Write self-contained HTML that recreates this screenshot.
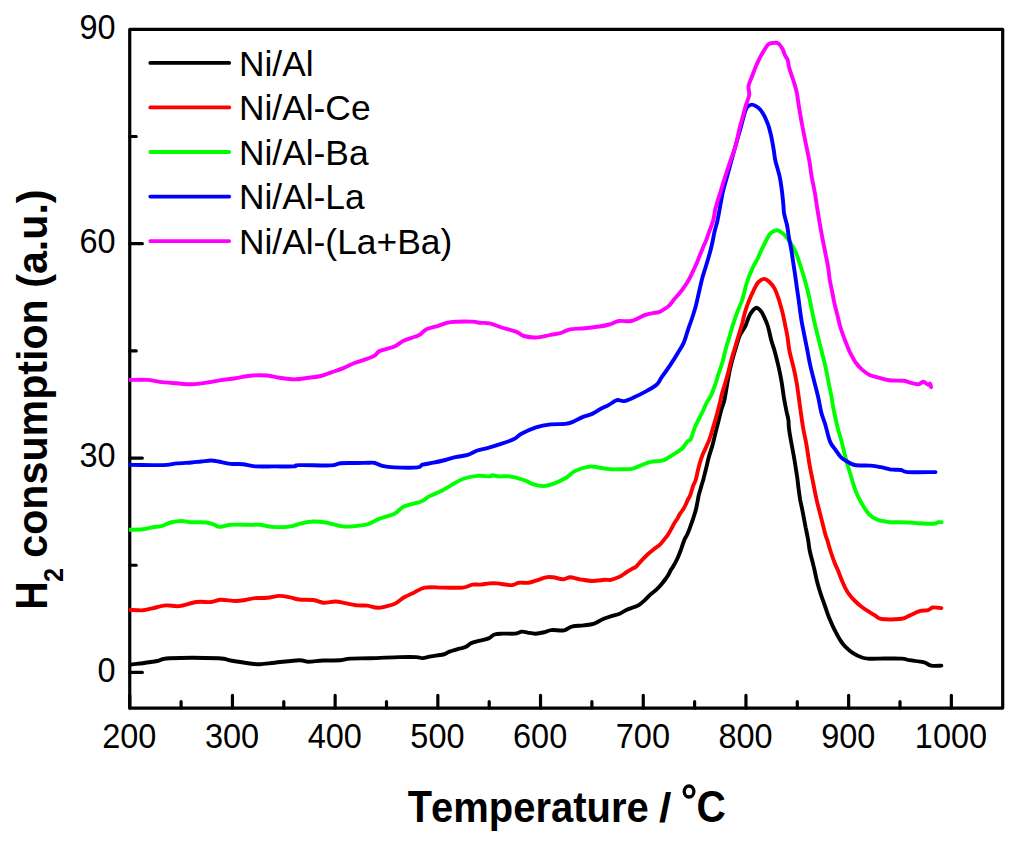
<!DOCTYPE html>
<html><head><meta charset="utf-8"><title>H2-TPR profiles</title>
<style>html,body{margin:0;padding:0;background:#fff;width:1024px;height:845px;overflow:hidden} svg{display:block}</style>
</head><body>
<svg width="1024" height="845" viewBox="0 0 1024 845">
<style>.tk{font-family:"Liberation Sans",sans-serif;font-size:33px;fill:#000} .ttl{font-family:"Liberation Sans",sans-serif;font-size:41.5px;font-weight:bold;fill:#000} .sub{font-family:"Liberation Sans",sans-serif;font-size:26px;font-weight:bold;fill:#000}</style>
<rect width="1024" height="845" fill="#fff"/>
<rect x="129.74" y="29.3" width="872.96" height="678.80" fill="none" stroke="#000" stroke-width="3.2" stroke-linejoin="round"/>
<path d="M129.74,708.1V695.25M232.44,708.1V695.25M335.14,708.1V695.25M437.84,708.1V695.25M540.54,708.1V695.25M643.25,708.1V695.25M745.95,708.1V695.25M848.65,708.1V695.25M951.35,708.1V695.25M181.09,708.1V701.60M283.79,708.1V701.60M386.49,708.1V701.60M489.19,708.1V701.60M591.89,708.1V701.60M694.60,708.1V701.60M797.30,708.1V701.60M900.00,708.1V701.60M129.74,672.40H142.34M129.74,458.05H142.34M129.74,243.70H142.34M129.74,565.23H136.24M129.74,350.88H136.24M129.74,136.52H136.24" stroke="#000" stroke-width="3.2" stroke-linecap="round" fill="none"/>
<text transform="translate(129.34,748.35) scale(0.985,1.055)" text-anchor="middle" class="tk">200</text>
<text transform="translate(232.04,748.35) scale(0.985,1.055)" text-anchor="middle" class="tk">300</text>
<text transform="translate(334.74,748.35) scale(0.985,1.055)" text-anchor="middle" class="tk">400</text>
<text transform="translate(437.44,748.35) scale(0.985,1.055)" text-anchor="middle" class="tk">500</text>
<text transform="translate(540.14,748.35) scale(0.985,1.055)" text-anchor="middle" class="tk">600</text>
<text transform="translate(642.85,748.35) scale(0.985,1.055)" text-anchor="middle" class="tk">700</text>
<text transform="translate(745.55,748.35) scale(0.985,1.055)" text-anchor="middle" class="tk">800</text>
<text transform="translate(848.25,748.35) scale(0.985,1.055)" text-anchor="middle" class="tk">900</text>
<text transform="translate(950.95,748.35) scale(0.985,1.055)" text-anchor="middle" class="tk">1000</text>
<text transform="translate(115.6,681.65) scale(0.985,1.055)" text-anchor="end" class="tk">0</text>
<text transform="translate(115.6,467.30) scale(0.985,1.055)" text-anchor="end" class="tk">30</text>
<text transform="translate(115.6,252.95) scale(0.985,1.055)" text-anchor="end" class="tk">60</text>
<text transform="translate(115.6,38.60) scale(0.985,1.055)" text-anchor="end" class="tk">90</text>
<clipPath id="pc"><rect x="128.95" y="0" width="900" height="845"/></clipPath><g clip-path="url(#pc)">
<path d="M127.0,665.5C127.4,665.5 128.9,665.6 129.5,665.5C130.1,665.4 128.2,665.1 130.4,664.7C132.6,664.3 138.1,663.8 142.6,663.2C147.1,662.6 152.8,661.8 157.3,661.0C161.8,660.2 159.3,658.8 169.5,658.3C179.7,657.8 208.1,657.9 218.3,658.3C228.5,658.7 225.2,659.6 230.5,660.5C235.8,661.4 245.1,662.9 250.0,663.5C254.9,664.1 255.7,664.3 259.8,664.2C263.9,664.1 268.0,663.4 274.5,662.7C281.0,662.1 293.2,660.5 298.9,660.3C304.6,660.1 304.6,661.7 308.7,661.7C312.8,661.7 318.0,660.7 323.3,660.5C328.6,660.3 335.9,660.6 340.4,660.3C344.9,660.0 345.3,659.0 350.2,658.6C355.1,658.2 361.8,658.5 370.0,658.2C378.2,658.0 391.6,657.3 399.3,657.1C407.0,656.9 412.5,656.9 416.4,657.1C420.3,657.3 420.1,658.2 422.5,658.1C424.9,658.0 428.1,656.9 431.0,656.4C433.9,655.9 437.5,655.4 439.8,655.0C442.1,654.6 443.0,654.7 444.6,654.1C446.2,653.5 447.1,652.5 449.5,651.6C451.9,650.7 456.5,649.5 459.3,648.7C462.1,647.9 464.2,647.6 466.1,646.7C468.1,645.8 468.9,644.3 471.0,643.3C473.1,642.3 475.9,641.7 478.8,640.9C481.7,640.1 486.0,639.5 488.6,638.4C491.2,637.3 492.1,635.3 494.5,634.5C496.9,633.7 499.8,633.8 503.2,633.6C506.6,633.5 511.9,633.9 515.0,633.6C518.1,633.3 519.7,631.8 521.8,631.6C523.9,631.4 525.4,632.2 527.7,632.6C530.0,633.0 532.9,633.8 535.7,633.7C538.5,633.6 541.9,632.8 544.5,632.2C547.1,631.6 548.1,630.4 551.4,630.1C554.7,629.8 560.7,630.9 564.1,630.3C567.5,629.7 568.6,627.4 571.9,626.6C575.1,625.8 580.0,625.9 583.6,625.4C587.2,624.9 590.1,625.0 593.4,623.9C596.6,622.8 599.9,620.4 603.1,619.0C606.4,617.6 610.1,616.5 612.9,615.6C615.7,614.7 617.4,614.7 619.7,613.7C622.0,612.7 624.6,610.8 626.8,609.8C629.0,608.8 630.8,608.3 632.8,607.5C634.8,606.7 636.7,606.3 638.7,605.1C640.7,603.9 642.6,602.2 644.6,600.4C646.6,598.6 648.5,596.2 650.5,594.4C652.5,592.6 654.4,591.6 656.4,589.7C658.4,587.8 660.8,585.0 662.3,583.2C663.8,581.4 664.5,580.4 665.5,579.0C666.5,577.6 667.4,576.5 668.3,575.0C669.2,573.5 670.1,571.3 670.8,570.0C671.5,568.7 671.6,569.2 672.7,567.3C673.8,565.4 676.0,561.5 677.4,558.5C678.8,555.5 679.8,552.8 681.0,549.6C682.2,546.4 683.5,541.9 684.5,539.5C685.5,537.1 686.1,536.9 687.0,535.0C687.9,533.1 688.8,530.8 689.8,528.1C690.8,525.4 692.1,521.9 693.1,518.7C694.1,515.6 695.2,512.4 696.0,509.2C696.8,506.0 697.4,502.1 697.9,499.7C698.4,497.3 698.2,497.3 698.8,495.0C699.4,492.7 700.7,488.4 701.4,485.9C702.1,483.4 702.4,482.9 703.2,480.0C704.0,477.1 705.0,472.7 706.0,468.8C707.0,464.9 707.8,460.8 708.9,456.9C710.0,452.9 711.4,449.0 712.5,445.1C713.6,441.2 714.4,437.2 715.4,433.3C716.4,429.4 717.4,425.3 718.4,421.4C719.4,417.4 720.4,413.2 721.4,409.6C722.4,406.0 723.4,404.5 724.4,400.0C725.4,395.5 726.5,387.6 727.4,382.8C728.3,378.0 728.8,374.9 729.6,371.0C730.5,367.1 731.4,363.1 732.5,359.2C733.6,355.2 734.8,351.2 736.0,347.3C737.2,343.4 738.3,339.0 739.8,335.5C741.3,332.0 743.7,329.4 745.2,326.3C746.7,323.2 747.8,319.3 748.9,316.8C750.0,314.3 750.8,313.0 752.0,311.5C753.2,310.0 754.7,308.1 756.0,307.8C757.3,307.6 758.6,308.5 760.0,310.0C761.4,311.5 762.8,314.1 764.1,316.8C765.4,319.5 766.7,322.4 767.9,326.3C769.1,330.2 770.1,335.8 771.2,340.0C772.3,344.2 773.5,346.8 774.7,351.2C775.9,355.7 777.4,361.7 778.6,366.9C779.8,372.1 780.8,377.3 781.7,382.5C782.6,387.7 783.2,393.5 784.0,398.1C784.8,402.7 785.5,406.4 786.2,410.0C786.9,413.6 788.0,417.0 788.4,420.0C788.8,423.0 788.5,424.2 788.9,427.8C789.3,431.2 790.2,436.6 791.0,441.0C791.8,445.4 792.6,449.7 793.4,454.0C794.2,458.3 795.0,463.0 795.6,467.0C796.2,471.0 796.8,474.3 797.3,478.0C797.8,481.7 798.1,485.3 798.6,489.0C799.1,492.7 799.6,496.3 800.2,500.0C800.9,503.7 801.6,506.4 802.5,511.0C803.4,515.5 804.7,522.6 805.6,527.3C806.6,532.0 807.3,535.2 808.0,539.2C808.7,543.2 809.0,547.1 809.8,551.0C810.6,554.9 812.0,559.6 812.8,562.8C813.5,566.0 813.8,566.8 814.5,570.0C815.2,573.2 816.1,577.9 817.1,581.8C818.1,585.7 819.3,589.6 820.6,593.6C821.9,597.6 823.4,601.5 824.8,605.5C826.2,609.5 827.3,613.4 828.9,617.3C830.5,621.2 832.2,625.2 834.2,629.1C836.2,633.0 838.8,637.9 840.7,640.9C842.6,643.9 843.5,644.9 845.5,646.9C847.5,648.9 849.9,651.0 852.6,652.8C855.4,654.6 859.2,656.5 862.0,657.5C864.8,658.5 866.4,658.5 869.1,658.7C871.8,658.9 872.7,658.6 878.1,658.6C883.5,658.6 896.4,658.3 901.6,658.6C906.8,658.9 905.8,659.6 909.4,660.2C913.0,660.8 919.8,661.3 923.4,662.2C927.0,663.1 928.2,665.0 931.2,665.6C934.2,666.2 939.7,665.6 941.4,665.6" fill="none" stroke="#000" stroke-width="3.9" stroke-linejoin="round" stroke-linecap="round"/>
<path d="M127.0,609.8C127.4,609.8 126.9,609.7 129.5,609.8C132.1,609.9 138.8,610.5 142.6,610.3C146.4,610.0 148.5,609.1 152.4,608.3C156.3,607.5 161.3,605.8 165.8,605.4C170.3,605.0 174.2,606.7 179.3,606.1C184.4,605.5 191.1,602.7 196.4,602.0C201.7,601.3 206.9,602.4 211.0,602.0C215.1,601.6 216.7,600.0 220.8,599.8C224.9,599.6 231.3,601.0 235.4,601.0C239.5,601.0 241.9,600.5 245.2,600.0C248.5,599.5 251.3,598.5 255.0,598.1C258.7,597.7 263.1,598.2 267.2,597.8C271.3,597.4 275.8,596.0 279.4,595.9C283.0,595.8 285.9,596.5 289.1,597.1C292.4,597.7 294.8,599.0 298.9,599.5C303.0,600.0 309.4,599.5 313.5,600.0C317.6,600.5 319.6,602.5 323.3,602.7C327.0,603.0 331.8,601.4 335.5,601.5C339.2,601.6 341.6,602.6 345.3,603.2C349.0,603.9 353.8,605.0 357.5,605.4C361.2,605.8 364.0,605.2 367.3,605.6C370.6,606.0 374.0,607.7 377.3,607.8C380.6,607.9 384.1,606.8 387.1,606.1C390.2,605.4 392.8,604.9 395.6,603.4C398.5,601.9 401.1,599.1 404.2,597.3C407.2,595.5 410.4,594.3 413.9,592.7C417.3,591.1 420.0,588.5 424.9,587.6C429.8,586.8 436.9,587.6 443.2,587.6C449.5,587.6 457.9,588.1 462.8,587.6C467.7,587.1 469.6,585.1 472.5,584.6C475.4,584.1 477.0,584.8 479.9,584.6C482.8,584.4 486.8,583.6 489.6,583.4C492.5,583.2 493.7,583.1 497.0,583.4C500.3,583.7 506.4,584.9 509.2,585.1C512.0,585.3 512.4,585.0 514.0,584.6C515.6,584.2 516.4,583.0 518.9,582.7C521.4,582.4 525.4,583.2 528.7,582.7C532.0,582.2 535.6,580.7 538.5,579.8C541.4,578.9 543.4,577.7 545.8,577.3C548.2,576.9 550.2,577.0 553.1,577.3C556.0,577.6 560.0,579.3 562.9,579.3C565.8,579.3 567.4,577.3 570.2,577.3C573.1,577.3 576.3,578.7 580.0,579.3C583.7,579.9 588.1,580.9 592.2,581.0C596.3,581.1 601.4,580.0 604.4,579.8C607.4,579.6 608.2,580.2 610.0,580.0C611.8,579.8 613.2,579.1 615.0,578.5C616.8,577.9 618.9,577.2 620.9,576.1C622.9,575.0 624.8,573.3 626.8,572.0C628.8,570.7 631.3,569.3 632.8,568.4C634.3,567.5 634.5,568.1 636.0,566.7C637.5,565.3 639.9,562.3 641.9,560.2C643.9,558.1 645.8,556.1 647.8,554.3C649.8,552.5 651.8,550.9 653.8,549.3C655.7,547.7 657.7,546.8 659.7,544.9C661.7,543.0 664.2,539.4 665.6,537.8C667.0,536.1 666.8,536.6 667.8,535.0C668.8,533.4 670.7,530.0 671.8,528.1C672.9,526.2 673.3,525.0 674.2,523.4C675.1,521.8 676.3,520.3 677.3,518.7C678.2,517.1 678.9,515.5 679.9,513.9C680.9,512.3 682.2,510.8 683.2,509.2C684.2,507.6 685.0,506.1 685.8,504.5C686.6,502.9 687.1,501.3 687.9,499.7C688.6,498.1 689.4,497.3 690.3,495.0C691.2,492.7 692.2,488.4 693.1,485.9C694.0,483.4 694.8,482.9 695.7,480.0C696.6,477.1 697.3,472.7 698.3,468.8C699.3,464.9 700.6,460.3 701.8,456.9C703.0,453.5 704.1,451.6 705.4,448.6C706.7,445.7 708.2,442.8 709.5,439.2C710.8,435.6 711.9,431.2 713.1,427.3C714.3,423.4 715.5,419.4 716.6,415.5C717.7,411.6 718.6,407.6 719.6,403.7C720.6,399.8 721.5,395.3 722.5,391.8C723.5,388.3 724.3,386.3 725.3,382.8C726.3,379.3 727.6,374.9 728.6,371.0C729.6,367.1 730.4,363.1 731.5,359.2C732.6,355.2 733.9,351.2 735.1,347.3C736.3,343.4 737.4,339.4 738.6,335.5C739.8,331.6 741.1,327.6 742.2,323.7C743.3,319.8 743.9,315.8 745.1,311.8C746.3,307.9 747.7,303.9 749.3,300.0C750.9,296.1 753.1,291.4 754.6,288.4C756.1,285.4 756.9,283.6 758.5,282.0C760.1,280.4 762.3,278.9 764.1,278.9C765.9,278.9 767.8,280.4 769.5,282.0C771.2,283.6 773.0,285.8 774.5,288.4C776.0,291.0 777.2,294.8 778.3,297.9C779.4,301.0 780.2,304.1 781.1,307.3C782.0,310.5 782.8,313.6 783.5,316.8C784.2,320.0 784.7,322.9 785.4,326.3C786.1,329.7 786.8,332.8 787.5,337.0C788.2,341.2 788.5,346.3 789.5,351.2C790.5,356.2 792.2,361.7 793.4,366.9C794.6,372.1 795.7,377.3 796.6,382.5C797.5,387.7 798.2,393.5 798.9,398.1C799.5,402.7 799.8,405.1 800.5,410.0C801.2,414.9 802.1,421.8 803.1,427.8C804.1,433.7 805.6,439.6 806.6,445.5C807.6,451.4 808.3,457.4 809.3,463.3C810.3,469.2 811.6,475.1 812.8,481.0C814.0,486.9 815.1,492.9 816.4,498.8C817.7,504.7 819.3,510.6 820.8,516.5C822.3,522.4 824.3,530.5 825.3,534.3C826.3,538.1 826.1,536.4 827.0,539.2C827.9,542.0 829.2,547.1 830.5,551.0C831.8,554.9 833.4,559.6 834.6,562.8C835.8,566.0 836.6,567.1 837.8,570.0C839.0,572.9 840.5,577.0 841.7,580.0C842.9,583.0 843.9,585.3 845.2,587.8C846.5,590.3 848.0,592.8 849.5,594.9C851.0,597.0 852.6,598.6 854.5,600.5C856.4,602.4 858.6,604.4 860.9,606.2C863.1,608.0 865.6,609.7 868.0,611.2C870.4,612.8 872.9,614.2 875.1,615.5C877.4,616.8 877.1,618.5 881.5,619.0C885.9,619.5 897.0,619.3 901.6,618.8C906.2,618.2 906.3,616.9 909.4,615.6C912.5,614.3 917.2,611.8 920.3,610.9C923.4,610.0 926.0,610.8 928.1,610.2C930.2,609.6 930.6,607.9 932.8,607.5C935.0,607.1 940.0,608.0 941.4,608.1" fill="none" stroke="#f00" stroke-width="3.9" stroke-linejoin="round" stroke-linecap="round"/>
<path d="M127.0,529.8C127.4,529.8 126.9,529.9 129.5,529.8C132.1,529.7 138.8,529.7 142.6,529.3C146.4,528.9 149.1,527.9 152.4,527.3C155.7,526.7 159.1,526.7 162.2,525.9C165.2,525.1 167.4,523.3 170.7,522.5C173.9,521.7 178.2,521.0 181.7,521.0C185.2,521.0 187.4,522.0 191.5,522.2C195.6,522.5 202.4,522.1 206.1,522.5C209.8,522.9 211.2,523.7 213.4,524.4C215.7,525.1 216.8,526.8 219.6,526.9C222.4,527.0 225.4,525.0 230.5,524.7C235.6,524.4 245.2,524.9 250.1,524.9C255.0,524.9 256.2,524.4 259.8,524.7C263.4,525.0 267.1,526.6 272.0,526.9C276.9,527.2 284.2,527.2 289.1,526.6C294.0,526.0 297.2,524.2 301.3,523.4C305.4,522.5 309.4,521.6 313.5,521.5C317.6,521.4 320.9,521.7 325.8,522.5C330.7,523.3 337.9,525.8 342.8,526.4C347.7,527.0 350.9,526.4 355.0,526.1C359.1,525.8 364.0,525.2 367.3,524.4C370.6,523.5 372.5,522.0 374.6,521.0C376.7,520.0 376.5,519.8 379.8,518.6C383.1,517.4 390.3,515.7 394.4,513.7C398.5,511.7 399.7,508.4 404.2,506.4C408.7,504.4 417.2,503.1 421.3,501.5C425.4,499.9 425.4,498.3 428.6,496.6C431.9,494.9 437.1,493.1 440.8,491.3C444.5,489.5 446.9,487.7 450.6,485.6C454.3,483.6 458.3,480.6 462.8,479.0C467.3,477.4 472.9,476.3 477.4,475.9C481.9,475.5 487.2,476.5 489.6,476.4C492.1,476.3 490.5,475.3 492.1,475.3C493.7,475.3 496.5,476.2 499.4,476.4C502.2,476.6 505.1,475.8 509.2,476.4C513.3,477.0 519.7,478.7 523.8,480.0C527.9,481.3 530.4,483.4 533.6,484.4C536.9,485.4 540.0,486.2 543.3,486.1C546.5,486.0 549.4,485.2 553.1,483.9C556.8,482.6 561.6,480.4 565.3,478.3C569.0,476.2 571.0,472.9 575.1,471.0C579.2,469.1 584.8,467.0 589.7,466.6C594.6,466.2 600.7,468.1 604.4,468.5C608.1,468.9 609.1,469.2 611.7,469.3C614.3,469.4 616.7,469.4 620.0,469.3C623.3,469.2 628.6,469.3 631.6,468.9C634.6,468.5 634.7,467.9 637.9,466.7C641.1,465.5 646.4,462.9 650.6,461.9C654.8,460.8 659.5,461.7 663.3,460.4C667.1,459.1 670.3,456.3 673.5,454.3C676.7,452.3 680.1,450.4 682.4,448.3C684.6,446.2 685.6,443.5 687.0,442.0C688.4,440.5 689.5,441.1 690.6,439.2C691.7,437.3 692.7,433.3 693.6,430.9C694.5,428.5 694.8,427.4 695.9,425.0C697.0,422.6 698.7,419.4 700.0,416.8C701.3,414.2 702.4,412.1 703.5,409.7C704.6,407.3 705.5,405.0 706.7,402.6C708.0,400.2 709.8,397.9 711.0,395.5C712.2,393.1 712.9,390.8 713.8,388.4C714.7,386.0 715.5,383.7 716.3,381.3C717.1,378.9 717.6,376.6 718.4,374.2C719.2,371.8 720.1,369.5 720.9,367.1C721.7,364.7 722.2,363.3 723.0,360.0C723.9,356.7 725.1,351.4 726.2,347.3C727.3,343.2 728.6,339.4 729.8,335.5C730.9,331.6 732.0,327.6 733.3,323.7C734.6,319.8 735.9,315.8 737.4,311.8C738.9,307.9 740.6,304.9 742.2,300.0C743.8,295.1 745.1,288.0 746.9,282.5C748.7,277.0 751.3,270.8 753.1,266.9C754.9,263.0 756.2,261.6 757.5,259.0C758.8,256.4 759.0,255.2 760.9,251.2C762.8,247.3 766.7,238.9 768.8,235.6C770.8,232.3 771.6,232.4 773.0,231.5C774.4,230.6 776.0,230.1 777.3,230.2C778.6,230.3 779.7,231.1 781.0,232.0C782.3,232.9 783.7,233.9 785.2,235.6C786.7,237.3 788.3,239.4 790.0,242.0C791.7,244.6 793.5,247.1 795.3,251.2C797.1,255.4 799.1,261.7 800.8,266.9C802.5,272.1 804.1,277.3 805.5,282.5C806.9,287.7 808.0,291.9 809.4,298.1C810.8,304.4 812.5,313.8 813.9,320.0C815.3,326.2 816.4,330.4 817.7,335.6C819.0,340.8 820.3,346.0 821.6,351.2C822.9,356.5 824.3,361.7 825.5,366.9C826.7,372.1 827.6,377.3 828.6,382.5C829.6,387.7 830.9,393.5 831.7,398.1C832.6,402.7 832.7,405.0 833.7,410.0C834.7,415.0 836.5,423.0 837.7,428.0C839.0,433.0 839.7,434.4 841.2,440.0C842.7,445.6 845.1,456.0 846.5,461.3C847.9,466.6 848.6,468.4 849.7,472.0C850.8,475.6 851.8,479.1 852.9,482.6C854.0,486.2 855.1,489.8 856.6,493.3C858.1,496.9 859.9,500.3 862.0,503.9C864.1,507.4 866.8,511.9 869.4,514.6C872.0,517.3 874.7,518.7 877.9,519.9C881.1,521.1 885.8,521.6 888.6,522.0C891.4,522.4 891.1,522.1 894.7,522.2C898.3,522.3 906.4,522.3 910.3,522.5C914.2,522.7 914.2,523.1 918.1,523.3C922.0,523.5 930.4,523.9 933.8,523.8C937.1,523.6 937.1,522.5 938.4,522.2C939.7,521.9 941.1,522.2 941.6,522.2" fill="none" stroke="#0f0" stroke-width="3.9" stroke-linejoin="round" stroke-linecap="round"/>
<path d="M127.0,464.9C127.4,464.9 125.3,464.9 129.5,464.9C133.7,464.9 146.2,465.1 152.4,465.1C158.7,465.1 162.9,465.2 167.0,464.9C171.1,464.6 172.7,463.8 176.8,463.4C180.9,463.0 187.4,462.8 191.5,462.5C195.6,462.2 197.9,461.8 201.2,461.5C204.4,461.2 208.2,460.5 211.0,460.5C213.8,460.5 215.1,460.9 218.3,461.5C221.6,462.1 226.4,463.4 230.5,463.9C234.6,464.3 238.6,463.8 242.7,464.2C246.8,464.6 249.7,466.0 255.0,466.4C260.3,466.8 268.0,466.4 274.5,466.4C281.0,466.4 289.9,466.6 294.0,466.4C298.1,466.2 292.8,465.3 298.9,465.1C305.0,464.9 323.7,465.7 330.6,465.4C337.5,465.1 335.9,463.6 340.4,463.2C344.9,462.8 352.6,463.1 357.5,463.0C362.4,462.9 367.1,462.7 370.0,462.7C372.9,462.7 372.9,462.5 374.9,463.0C376.9,463.5 378.9,465.2 382.2,465.9C385.4,466.6 388.5,467.1 394.4,467.4C400.3,467.6 412.9,467.8 417.6,467.4C422.3,466.9 419.9,465.5 422.5,464.7C425.1,463.9 430.1,463.4 433.5,462.7C436.9,462.0 439.6,461.4 443.2,460.5C446.8,459.6 451.3,458.0 455.4,457.1C459.5,456.2 464.0,456.0 467.7,454.9C471.4,453.8 474.1,451.6 477.4,450.5C480.6,449.4 483.5,449.1 487.2,448.1C490.9,447.1 494.9,445.9 499.4,444.4C503.9,442.9 510.3,440.9 514.0,439.1C517.7,437.3 517.7,435.7 521.4,433.7C525.1,431.7 531.1,428.9 536.0,427.3C540.9,425.8 545.8,425.0 550.7,424.4C555.6,423.8 561.6,424.3 565.3,423.9C568.9,423.5 569.8,423.1 572.6,422.0C575.5,420.9 579.1,418.5 582.4,417.1C585.7,415.8 589.3,415.2 592.2,413.9C595.1,412.6 597.3,410.8 600.0,409.3C602.7,407.8 605.7,406.6 608.5,405.1C611.3,403.6 614.4,400.8 617.0,400.1C619.6,399.4 621.2,401.6 624.1,401.1C627.0,400.6 630.3,399.0 634.1,397.3C637.9,395.6 643.1,393.0 646.9,390.9C650.7,388.8 654.4,386.6 656.8,384.5C659.2,382.4 658.7,381.5 661.1,378.1C663.5,374.7 668.2,368.2 671.0,363.9C673.8,359.6 676.0,356.1 678.1,352.5C680.2,348.9 682.1,346.4 683.8,342.6C685.4,338.8 686.7,333.7 688.0,329.8C689.3,325.9 690.6,322.6 691.8,319.0C693.0,315.4 694.2,311.5 695.1,308.5C696.0,305.5 695.9,305.9 697.0,301.0C698.1,296.1 700.6,284.8 702.0,279.2C703.4,273.6 704.4,271.2 705.6,267.3C706.8,263.4 708.0,259.4 709.1,255.5C710.2,251.6 711.2,247.7 712.1,243.7C713.0,239.7 713.7,235.4 714.6,231.5C715.5,227.6 716.2,226.5 717.6,220.0C719.0,213.5 721.1,200.0 722.7,192.5C724.4,185.0 726.1,180.2 727.5,175.0C728.9,169.8 729.9,166.1 731.2,161.2C732.6,156.4 734.3,150.2 735.5,146.0C736.7,141.8 737.5,138.9 738.3,136.0C739.1,133.1 739.6,131.6 740.5,128.4C741.4,125.2 742.8,119.7 743.5,117.0C744.2,114.3 744.3,113.7 744.9,112.0C745.5,110.3 746.0,108.3 747.1,107.1C748.2,105.9 750.2,104.7 751.7,104.6C753.2,104.5 754.9,105.6 756.3,106.4C757.7,107.2 758.7,107.9 759.9,109.2C761.1,110.5 762.3,112.4 763.4,114.2C764.5,116.0 765.4,118.0 766.2,119.9C767.0,121.8 767.8,123.7 768.4,125.5C769.0,127.3 769.3,128.7 769.8,130.5C770.3,132.3 770.7,134.1 771.2,136.2C771.7,138.3 772.1,140.7 772.6,143.3C773.1,145.9 773.5,148.8 774.0,151.8C774.5,154.8 774.5,157.1 775.5,161.2C776.5,165.4 778.7,172.1 779.7,176.9C780.8,181.7 781.2,185.7 781.8,190.0C782.4,194.3 782.8,199.1 783.2,203.0C783.6,206.9 783.5,209.9 784.1,213.7C784.8,217.4 786.3,221.6 787.1,225.5C787.9,229.4 788.2,233.4 788.9,237.3C789.6,241.2 790.5,245.2 791.2,249.2C791.9,253.1 792.4,257.1 793.0,261.0C793.6,264.9 794.1,268.0 794.8,272.8C795.5,277.6 796.6,285.8 797.2,290.0C797.8,294.2 797.7,293.1 798.4,298.1C799.1,303.1 800.4,313.8 801.4,320.0C802.4,326.2 803.4,330.4 804.4,335.6C805.4,340.8 806.5,346.0 807.5,351.2C808.5,356.5 809.4,361.7 810.6,366.9C811.8,372.1 813.2,377.3 814.5,382.5C815.8,387.7 817.3,393.1 818.4,398.1C819.5,403.1 820.2,408.2 821.3,412.5C822.4,416.8 823.6,419.2 825.1,424.0C826.6,428.8 828.3,437.2 830.0,441.5C831.7,445.8 833.5,447.0 835.3,449.6C837.1,452.2 838.9,455.1 840.7,457.0C842.5,458.9 843.7,459.5 846.0,460.8C848.3,462.1 850.4,464.2 854.5,465.0C858.6,465.8 866.1,465.2 870.5,465.6C874.9,466.0 877.9,466.6 881.1,467.2C884.3,467.8 887.4,468.9 889.7,469.3C892.0,469.7 892.8,469.6 894.7,469.7C896.6,469.8 899.1,469.6 901.2,470.0C903.3,470.4 901.7,471.8 907.4,472.1C913.1,472.5 930.8,472.1 935.5,472.1" fill="none" stroke="#00f" stroke-width="3.9" stroke-linejoin="round" stroke-linecap="round"/>
<path d="M127.0,379.9C127.4,379.9 126.1,379.9 129.5,379.9C132.9,379.9 142.5,379.6 147.5,379.9C152.5,380.2 154.8,381.3 159.7,381.9C164.6,382.5 171.5,382.9 176.8,383.3C182.1,383.7 186.2,384.5 191.5,384.3C196.8,384.1 203.7,383.0 208.6,382.3C213.5,381.6 216.3,380.8 220.8,380.1C225.3,379.4 230.1,379.0 235.4,378.2C240.7,377.4 247.2,375.9 252.5,375.5C257.8,375.1 262.7,375.1 267.2,375.5C271.7,375.9 274.9,377.1 279.4,377.7C283.9,378.3 289.1,379.4 294.0,379.4C298.9,379.4 304.2,378.3 308.7,377.7C313.2,377.1 317.2,376.9 320.9,376.0C324.5,375.1 327.0,373.9 330.6,372.6C334.2,371.3 338.7,370.0 342.8,368.4C346.9,366.8 350.9,364.4 355.0,362.8C359.1,361.2 364.0,359.9 367.3,358.7C370.6,357.5 372.5,357.0 374.6,355.7C376.7,354.4 376.5,352.4 379.8,350.9C383.1,349.4 390.3,348.2 394.4,346.5C398.5,344.8 400.1,342.3 404.2,340.4C408.3,338.5 415.1,337.1 418.8,335.3C422.5,333.5 422.9,331.0 426.2,329.4C429.5,327.8 434.3,327.0 438.4,325.8C442.5,324.6 444.9,322.8 450.6,322.1C456.3,321.4 467.6,321.5 472.5,321.6C477.4,321.7 477.0,322.5 479.9,322.8C482.8,323.1 486.0,322.5 489.6,323.3C493.2,324.1 497.3,326.1 501.8,327.5C506.3,328.9 512.8,330.5 516.5,331.9C520.2,333.3 520.5,335.1 523.8,336.0C527.0,336.9 531.5,337.7 536.0,337.5C540.5,337.3 546.6,335.5 550.7,334.8C554.8,334.1 557.1,334.0 560.4,333.1C563.6,332.2 566.1,330.2 570.2,329.4C574.3,328.6 579.9,328.7 584.8,328.2C589.7,327.7 595.4,327.1 599.5,326.5C603.6,325.9 606.0,325.4 609.3,324.5C612.5,323.6 615.4,321.6 619.0,321.0C622.6,320.4 626.8,322.0 631.2,321.0C635.6,320.0 641.1,316.3 645.4,314.9C649.7,313.5 654.4,313.0 656.8,312.5C659.2,312.0 658.1,312.7 660.0,311.7C661.9,310.7 665.9,308.5 668.3,306.4C670.7,304.3 672.0,301.9 674.2,299.3C676.4,296.7 678.9,294.1 681.3,291.0C683.7,287.9 686.2,284.1 688.4,280.4C690.6,276.6 692.7,271.9 694.3,268.5C695.9,265.1 696.5,263.6 697.9,260.2C699.3,256.8 701.2,251.8 702.6,248.4C704.0,245.1 705.0,243.1 706.2,240.1C707.4,237.1 708.4,233.8 709.6,230.5C710.8,227.2 712.3,223.7 713.3,220.0C714.3,216.3 714.4,212.7 715.6,208.1C716.8,203.5 718.6,197.9 720.3,192.5C721.9,187.1 723.8,180.7 725.5,175.5C727.2,170.3 728.9,165.3 730.3,161.2C731.7,157.2 732.9,154.3 734.0,151.0C735.1,147.7 735.9,145.0 736.8,141.2C737.7,137.4 738.5,132.6 739.5,128.4C740.5,124.2 741.9,120.1 742.9,116.3C743.9,112.5 744.7,109.2 745.7,105.7C746.8,102.1 748.7,98.3 749.2,95.0C749.7,91.7 748.1,89.2 748.5,86.1C749.0,83.0 750.9,79.4 752.1,76.2C753.3,73.0 754.5,69.8 755.6,67.0C756.8,64.2 757.9,61.7 759.2,59.1C760.5,56.5 762.0,53.8 763.5,51.3C765.0,48.8 766.8,45.6 768.4,44.2C770.0,42.8 771.7,43.0 773.4,42.9C775.1,42.8 776.9,42.5 778.4,43.5C779.9,44.5 781.5,47.3 782.6,49.2C783.7,51.1 784.0,53.1 784.8,54.9C785.6,56.7 786.9,57.9 787.6,59.9C788.3,61.9 788.3,64.3 789.0,67.0C789.7,69.7 790.9,73.2 791.9,76.2C792.9,79.2 793.9,81.9 794.7,84.7C795.5,87.5 796.1,89.3 796.9,93.2C797.6,97.1 798.2,102.0 799.2,108.1C800.2,114.2 801.9,123.8 803.1,130.0C804.3,136.2 805.2,140.4 806.2,145.6C807.3,150.8 808.5,156.0 809.4,161.2C810.3,166.5 810.8,171.7 811.7,176.9C812.6,182.1 813.9,187.3 814.8,192.5C815.7,197.7 816.4,203.2 817.2,208.1C818.0,213.0 818.7,217.4 819.5,222.0C820.3,226.6 821.0,230.7 821.9,235.6C822.8,240.5 824.0,246.0 825.0,251.2C826.0,256.5 827.3,262.1 828.1,266.9C828.9,271.7 829.1,275.9 829.8,280.0C830.5,284.1 831.4,287.9 832.2,291.8C833.0,295.8 833.6,299.8 834.5,303.7C835.4,307.6 836.5,311.6 837.5,315.5C838.5,319.4 839.2,323.4 840.4,327.3C841.6,331.2 843.1,335.2 844.6,339.2C846.1,343.1 848.0,348.0 849.3,351.0C850.6,354.0 851.4,355.0 852.5,357.0C853.6,359.0 854.2,360.7 855.8,362.8C857.4,364.9 860.0,367.9 862.3,369.9C864.6,371.9 866.7,373.6 869.5,374.9C872.3,376.2 876.0,376.9 879.3,377.8C882.6,378.7 885.0,379.8 889.1,380.3C893.2,380.8 900.5,380.5 903.7,380.8C907.0,381.1 906.2,381.6 908.6,382.2C911.0,382.8 916.0,384.3 918.4,384.2C920.8,384.1 921.6,381.6 923.2,381.7C924.8,381.8 927.0,384.4 928.1,384.7C929.2,385.0 929.6,383.3 930.1,383.7C930.6,384.1 930.9,386.5 931.1,387.1" fill="none" stroke="#f0f" stroke-width="3.9" stroke-linejoin="round" stroke-linecap="round"/>
</g>
<line x1="150.3" y1="62.9" x2="229.2" y2="62.9" stroke="#000" stroke-width="3.8" stroke-linecap="round"/>
<text transform="translate(238.9,75.65) scale(1.072,1.0827)" class="tk">Ni/Al</text>
<line x1="150.3" y1="107.45" x2="229.2" y2="107.45" stroke="#f00" stroke-width="3.8" stroke-linecap="round"/>
<text transform="translate(238.9,120.20) scale(1.072,1.0827)" class="tk">Ni/Al-Ce</text>
<line x1="150.3" y1="152.0" x2="229.2" y2="152.0" stroke="#0f0" stroke-width="3.8" stroke-linecap="round"/>
<text transform="translate(238.9,164.75) scale(1.072,1.0827)" class="tk">Ni/Al-Ba</text>
<line x1="150.3" y1="196.55" x2="229.2" y2="196.55" stroke="#00f" stroke-width="3.8" stroke-linecap="round"/>
<text transform="translate(238.9,209.30) scale(1.072,1.0827)" class="tk">Ni/Al-La</text>
<line x1="150.3" y1="241.1" x2="229.2" y2="241.1" stroke="#f0f" stroke-width="3.8" stroke-linecap="round"/>
<text transform="translate(238.9,253.85) scale(1.072,1.0827)" class="tk">Ni/Al-(La+Ba)</text>
<text transform="matrix(0.9571 0 0 1.0807 407.72 822.20)" class="ttl">T</text>
<text transform="matrix(0.9630 0 0 1.03 431.11 822.2)" class="ttl">emperature</text>
<text transform="matrix(1.0762 0 0 0.9854 658.96 821.86)" class="ttl">/</text>
<text transform="matrix(0.9778 0 0 1.0542 696.39 821.67)" class="ttl">C</text>
<ellipse cx="689.05" cy="791.5" rx="4.85" ry="5.5" fill="none" stroke="#000" stroke-width="3.3"/>
<text transform="matrix(0 -0.9469 1.0579 0 47.15 609.80)" class="ttl">H</text>
<text transform="matrix(0 -0.9760 1.0500 0 63.10 581.98)" class="sub">2</text>
<text transform="matrix(0 -0.9925 1.0182 0 47.35 557.74)" class="ttl">consumption (a.u.)</text>
</svg>
</body></html>
